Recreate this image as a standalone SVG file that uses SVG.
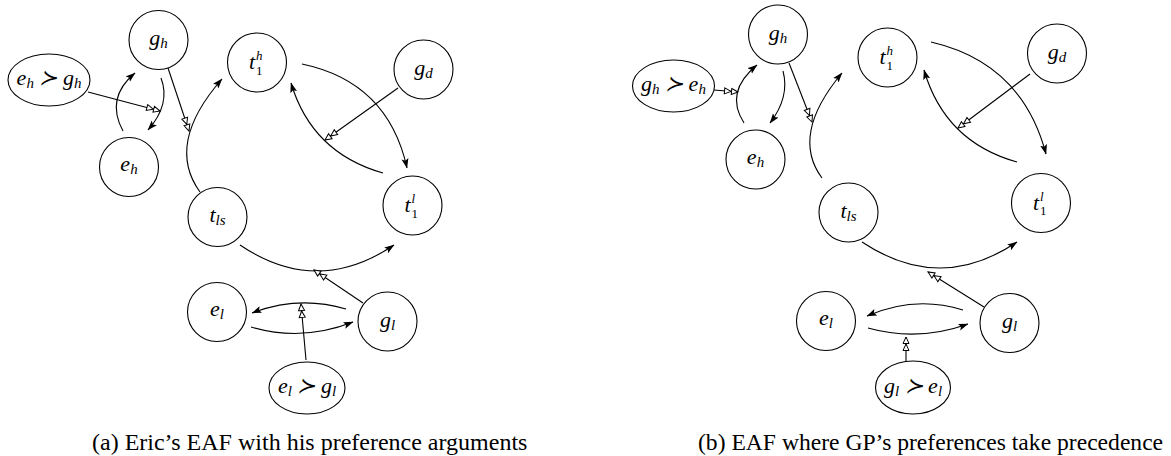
<svg xmlns="http://www.w3.org/2000/svg" width="1171" height="456" viewBox="0 0 1171 456">
<style>
.n{fill:#fff;stroke:#000;stroke-width:1.1}
.c{fill:none;stroke:#000;stroke-width:1.1}
.m{font-family:"Liberation Serif","DejaVu Serif",serif;font-style:italic;font-size:22px;text-anchor:middle;fill:#000}
.t{font-family:"Liberation Serif","DejaVu Serif",serif;font-style:italic;font-size:22px;fill:#000}
.s{font-size:15px}
.sm{font-family:"Liberation Serif","DejaVu Serif",serif;font-style:italic;font-size:13px;fill:#000}
.u{font-family:"Liberation Serif","DejaVu Serif",serif;font-size:13px;fill:#000}
.cap{font-family:"Liberation Serif",serif;font-size:24px;fill:#000}
.f{marker-end:url(#fa)}
.a{marker-end:url(#oa)}
</style>
<defs>
<marker id="fa" viewBox="0 0 10 8" refX="9.5" refY="4" markerWidth="10" markerHeight="8" orient="auto" markerUnits="userSpaceOnUse"><path d="M0,0.5 L10,4 L0,7.5 L2,4 z" fill="#000"/></marker>
<marker id="oa" viewBox="-1 -1 16 10" refX="13.5" refY="4" markerWidth="16" markerHeight="10" orient="auto" markerUnits="userSpaceOnUse"><path d="M0,1 L6.5,4 L0,7 z M7,1 L13.5,4 L7,7 z" fill="#fff" stroke="#000" stroke-width="1"/></marker>
</defs>

<g id="connectors">
<!-- (a) -->
<path class="c f" d="M123,131 Q105,98 135,73"/>
<path class="c f" d="M161,78 Q171,104 148,130"/>
<path class="c a" d="M88,92 L160,111"/>
<path class="c a" d="M168,68 L189,131"/>
<path class="c f" d="M200,192 Q165,144 222,79"/>
<path class="c f" d="M302,64 Q388,82 407,168"/>
<path class="c f" d="M383,173 Q312,153 291,83"/>
<path class="c a" d="M398,88 L325,140"/>
<path class="c f" d="M240,245 Q317,297 394,245"/>
<path class="c a" d="M363,303 L314,270"/>
<path class="c f" d="M346,309 Q299,295 252,313"/>
<path class="c f" d="M251,327 Q302,342 353,322"/>
<path class="c a" d="M306,360 L301,304"/>
<!-- (b) -->
<path class="c f" d="M744,123 Q724,92 757,65"/>
<path class="c f" d="M783,71 Q790,97 770,123"/>
<path class="c a" d="M714,90 L738,92"/>
<path class="c a" d="M789,63 L812,122"/>
<path class="c f" d="M822,178 Q790,135 842,73"/>
<path class="c f" d="M931,42 Q1022,63 1046,154"/>
<path class="c f" d="M1017,162 Q945,142 924,70"/>
<path class="c a" d="M1030,74 L958,128"/>
<path class="c f" d="M862,242 Q940,294 1017,242"/>
<path class="c a" d="M984,307 L928,272"/>
<path class="c f" d="M963,310 Q915,295 867,316"/>
<path class="c f" d="M868,328 Q918,342 968,324"/>
<path class="c a" d="M906,361 L906,337"/>
</g>

<!-- panel (a) nodes -->
<g id="a_gh"><circle class="n" cx="158.5" cy="40" r="29.5"/><text class="m" x="158.5" y="45">g<tspan class="s" dy="3">h</tspan></text></g>
<g id="a_pref_eh_gh"><ellipse class="n" cx="49" cy="80" rx="41" ry="26"/><text class="m" x="49" y="85">e<tspan class="s" dy="3">h</tspan><tspan dy="-3"> ≻ g</tspan><tspan class="s" dy="3">h</tspan></text></g>
<g id="a_eh"><circle class="n" cx="129" cy="167" r="29.5"/><text class="m" x="129" y="171">e<tspan class="s" dy="3">h</tspan></text></g>
<g id="a_t1h"><circle class="n" cx="257" cy="62.5" r="29.5"/><text class="t" x="249" y="69">t</text><text class="sm" x="256" y="60">h</text><text class="u" x="256" y="74.5">1</text></g>
<g id="a_gd"><circle class="n" cx="423.5" cy="69.5" r="29.5"/><text class="m" x="423.5" y="74.5">g<tspan class="s" dy="3">d</tspan></text></g>
<g id="a_t1l"><circle class="n" cx="412.5" cy="205.5" r="29.5"/><text class="t" x="404.5" y="212">t</text><text class="sm" x="411.5" y="203">l</text><text class="u" x="411.5" y="217.5">1</text></g>
<g id="a_tls"><circle class="n" cx="217.5" cy="217" r="29.5"/><text class="m" x="217.5" y="222">t<tspan class="s" dy="3">ls</tspan></text></g>
<g id="a_el"><circle class="n" cx="217" cy="312" r="29.5"/><text class="m" x="217" y="316">e<tspan class="s" dy="3">l</tspan></text></g>
<g id="a_gl"><circle class="n" cx="387.5" cy="321.5" r="29.5"/><text class="m" x="387.5" y="326.5">g<tspan class="s" dy="3">l</tspan></text></g>
<g id="a_pref_el_gl"><ellipse class="n" cx="307" cy="388" rx="38" ry="26"/><text class="m" x="307" y="393">e<tspan class="s" dy="3">l</tspan><tspan dy="-3"> ≻ g</tspan><tspan class="s" dy="3">l</tspan></text></g>

<!-- panel (b) nodes -->
<g id="b_gh"><circle class="n" cx="778" cy="34.5" r="29.5"/><text class="m" x="778" y="39.5">g<tspan class="s" dy="3">h</tspan></text></g>
<g id="b_pref_gh_eh"><ellipse class="n" cx="673.5" cy="86" rx="41" ry="26"/><text class="m" x="673.5" y="91">g<tspan class="s" dy="3">h</tspan><tspan dy="-3"> ≻ e</tspan><tspan class="s" dy="3">h</tspan></text></g>
<g id="b_eh"><circle class="n" cx="755.5" cy="159.5" r="29.5"/><text class="m" x="755.5" y="163.5">e<tspan class="s" dy="3">h</tspan></text></g>
<g id="b_t1h"><circle class="n" cx="887.5" cy="57.5" r="29.5"/><text class="t" x="879.5" y="64">t</text><text class="sm" x="886.5" y="55">h</text><text class="u" x="886.5" y="69.5">1</text></g>
<g id="b_gd"><circle class="n" cx="1057" cy="53.5" r="29.5"/><text class="m" x="1057" y="58.5">g<tspan class="s" dy="3">d</tspan></text></g>
<g id="b_t1l"><circle class="n" cx="1041" cy="203" r="29.5"/><text class="t" x="1033" y="209.5">t</text><text class="sm" x="1040" y="200.5">l</text><text class="u" x="1040" y="215">1</text></g>
<g id="b_tls"><circle class="n" cx="848.5" cy="212.5" r="29.5"/><text class="m" x="848.5" y="217.5">t<tspan class="s" dy="3">ls</tspan></text></g>
<g id="b_el"><circle class="n" cx="826" cy="321" r="29.5"/><text class="m" x="826" y="325">e<tspan class="s" dy="3">l</tspan></text></g>
<g id="b_gl"><circle class="n" cx="1009.5" cy="323" r="29.5"/><text class="m" x="1009.5" y="328">g<tspan class="s" dy="3">l</tspan></text></g>
<g id="b_pref_gl_el"><ellipse class="n" cx="913" cy="387.5" rx="37.5" ry="26.5"/><text class="m" x="913" y="392.5">g<tspan class="s" dy="3">l</tspan><tspan dy="-3"> ≻ e</tspan><tspan class="s" dy="3">l</tspan></text></g>

<text class="cap" x="92" y="450">(a) Eric’s EAF with his preference arguments</text>
<text class="cap" x="698" y="450" style="font-size:23.6px">(b) EAF where GP’s preferences take precedence</text>
</svg>
